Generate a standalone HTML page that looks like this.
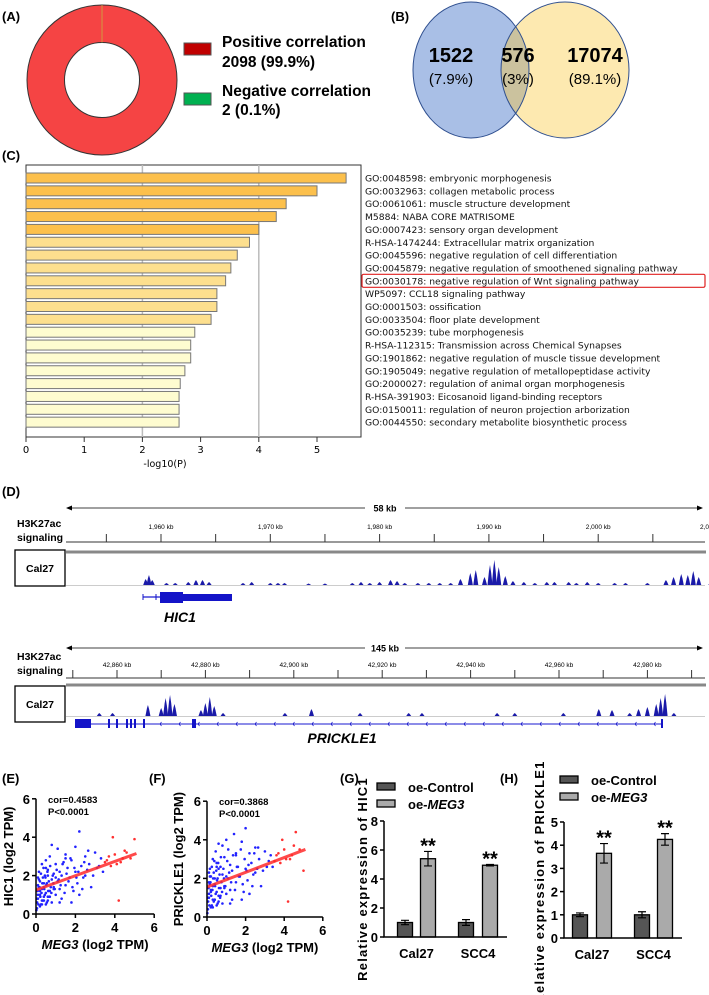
<!DOCTYPE html>
<html><head><meta charset="utf-8"><style>
html,body{margin:0;padding:0;background:#fff;}
svg{display:block;font-family:"Liberation Sans",sans-serif;}
.b{font-weight:bold;}
</style></head><body>
<svg id="fig" width="709" height="995" viewBox="0 0 709 995" xmlns="http://www.w3.org/2000/svg">
<defs>
<clipPath id="clipLeft"><ellipse cx="471" cy="70" rx="58" ry="68"/></clipPath>
</defs>
<!-- Panel A -->
<g>
<text x="2" y="21" class="b" font-size="13">(A)</text>
<circle cx="102" cy="80" r="56" fill="none" stroke="#f54444" stroke-width="37.5"/>
<circle cx="102" cy="80" r="75" fill="none" stroke="#333" stroke-width="1"/>
<circle cx="102" cy="80" r="37.5" fill="#fff" stroke="#333" stroke-width="1"/>
<line x1="102" y1="5" x2="102" y2="42.5" stroke="#c8b040" stroke-width="0.8"/>
<rect x="184" y="43" width="27" height="12" fill="#c00000" stroke="#555"/>
<text x="222" y="47" class="b" font-size="15.5">Positive correlation</text>
<text x="222" y="67" class="b" font-size="15.5">2098 (99.9%)</text>
<rect x="184" y="93" width="27" height="12" fill="#00b050" stroke="#555"/>
<text x="222" y="96" class="b" font-size="15.5">Negative correlation</text>
<text x="222" y="115" class="b" font-size="15.5">2 (0.1%)</text>
</g>
<!-- Panel B -->
<g>
<text x="391" y="21" class="b" font-size="13">(B)</text>
<ellipse cx="471" cy="70" rx="58" ry="68" fill="#a9bfe6"/>
<ellipse cx="565" cy="70" rx="64" ry="68" fill="#fde9b0"/>
<ellipse cx="565" cy="70" rx="64" ry="68" fill="#cbc29e" clip-path="url(#clipLeft)"/>
<ellipse cx="471" cy="70" rx="58" ry="68" fill="none" stroke="#2f4f8f"/>
<ellipse cx="565" cy="70" rx="64" ry="68" fill="none" stroke="#2f4f8f"/>
<g class="b" font-size="20" text-anchor="middle">
<text x="451" y="62">1522</text>
<text x="518" y="62">576</text>
<text x="595" y="62">17074</text>
</g>
<g font-size="15" text-anchor="middle">
<text x="451" y="84">(7.9%)</text>
<text x="518" y="84">(3%)</text>
<text x="595" y="84">(89.1%)</text>
</g>
</g>
<g id="pc">
<text x="2" y="160" class="b" font-size="13">(C)</text>
</g>
<g id="pd">
<text x="2" y="496" class="b" font-size="13">(D)</text>
</g>
<g id="pe"></g>
<g id="pf"></g>
<g id="pg"></g>
<g id="ph"></g>
</svg>
<script>
// ---- Panel C data ----
const goTerms = ["GO:0048598: embryonic morphogenesis","GO:0032963: collagen metabolic process","GO:0061061: muscle structure development","M5884: NABA CORE MATRISOME","GO:0007423: sensory organ development","R-HSA-1474244: Extracellular matrix organization","GO:0045596: negative regulation of cell differentiation","GO:0045879: negative regulation of smoothened signaling pathway","GO:0030178: negative regulation of Wnt signaling pathway","WP5097: CCL18 signaling pathway","GO:0001503: ossification","GO:0033504: floor plate development","GO:0035239: tube morphogenesis","R-HSA-112315: Transmission across Chemical Synapses","GO:1901862: negative regulation of muscle tissue development","GO:1905049: negative regulation of metallopeptidase activity","GO:2000027: regulation of animal organ morphogenesis","R-HSA-391903: Eicosanoid ligand-binding receptors","GO:0150011: regulation of neuron projection arborization","GO:0044550: secondary metabolite biosynthetic process"];
const goValues = [5.5,5.0,4.47,4.3,4.0,3.84,3.63,3.52,3.43,3.28,3.28,3.18,2.9,2.83,2.83,2.73,2.65,2.63,2.63,2.63];
const goTicks = [0,1,2,3,4,5];
// ---- Panel D data ----
const hic1TickKb = [1960,1970,1980,1990,2000];
const hic1Peaks = [[1958.6,6],[1958.9,10],[1959.2,5],[1960.5,2],[1961.3,2],[1962.5,3],[1963.2,5],[1963.8,5],[1964.4,3],[1967.5,2],[1968.3,3],[1970,2],[1970.7,2],[1971.3,2],[1973.5,1.5],[1975,1.5],[1977.5,2],[1978.3,3],[1979.1,2],[1980,3],[1981,5],[1981.6,4],[1982.3,2],[1983.5,2],[1984.5,2],[1985.5,2],[1986.5,2],[1987.4,6],[1988.3,12],[1988.8,15],[1989.6,8],[1990.1,20],[1990.5,25],[1990.9,18],[1991.5,9],[1992.2,4],[1993.2,3],[1994.2,2],[1995.3,3],[1996,3],[1997.3,3],[1998,2],[1999,3],[2000,2],[2001.5,2],[2002.5,2],[2004.5,2],[2006.2,5],[2006.9,8],[2007.6,11],[2008.2,10],[2008.7,14],[2009.2,8],[2010.3,3],[2011.3,2],[2012.5,1.5],[2013.5,1.5]];
const pkTickKb = [42860,42880,42900,42920,42940,42960,42980];
const pkPeaks = [[42856,3],[42859,3],[42867,11],[42870,8],[42871,18],[42872,21],[42873,12],[42879,6],[42880,13],[42881,19],[42882,10],[42884,3],[42898,3],[42904,7],[42915,3],[42926,3],[42929,3],[42946,3],[42950,3],[42961,3],[42969,7],[42972,6],[42976,3],[42978,7],[42980,9],[42982,12],[42983,18],[42984,22],[42986,3]];
// ---- Panel E/F data ----
const eX = [0.05,0.1,0.1,0.15,0.2,0.2,0.25,0.3,0.3,0.35,0.4,0.4,0.45,0.5,0.5,0.55,0.6,0.6,0.7,0.7,0.8,0.8,0.9,0.9,1.0,1.0,1.1,1.1,1.2,1.2,1.3,1.3,1.4,1.5,1.5,1.6,1.7,1.8,1.9,2.0,2.0,2.1,2.2,2.3,2.4,2.5,2.6,2.7,2.8,3.0,3.1,3.3,3.5,3.7,3.9,4.1,4.2,4.4,4.6,4.8,5.0,0.3,0.6,0.9,1.2,0.1,0.5,0.8,1.5,2.2,0.2,0.4,1.0,1.8,2.5,0.05,0.08,0.12,0.15,0.18,0.22,0.25,0.28,0.32,0.35,0.38,0.42,0.45,0.48,0.52,0.55,0.58,0.62,0.65,0.68,0.72,0.75,0.78,0.85,0.88,0.95,1.05,1.15,1.25,1.35,1.45,1.55,1.65,1.75,1.85,1.95,2.05,2.15,2.35,2.45,2.65,2.9,3.2,3.4,3.6,3.8,4.0,4.3,4.5,0.02,0.06,0.1,0.14,0.2,0.3,0.4,0.5,0.6,0.7];
const eY = [0.3,1.5,0.8,2.2,1.0,1.7,0.5,1.3,2.6,1.9,0.9,1.4,2.0,1.1,2.8,1.6,0.7,2.3,1.2,3.0,1.8,0.6,2.1,1.4,1.0,2.6,1.7,3.4,1.3,2.2,0.8,2.0,2.7,1.5,3.1,2.4,1.9,2.8,1.2,2.2,3.5,1.6,4.3,2.5,1.9,3.0,2.3,2.6,1.4,3.2,2.4,2.9,2.7,3.0,4.0,2.6,0.7,2.9,3.2,2.9,3.9,0.5,0.9,1.3,0.6,1.9,2.4,3.6,2.9,1.0,1.2,0.7,1.9,0.6,2.0,0.8,1.2,0.5,1.8,1.4,0.9,2.1,1.1,1.6,0.7,2.4,1.3,1.0,1.9,1.5,0.6,2.2,1.2,1.7,0.9,2.5,1.4,1.1,2.0,1.6,1.3,2.3,1.8,1.5,2.6,1.1,2.1,1.7,2.9,1.4,2.4,1.9,2.2,1.3,2.7,3.3,2.0,2.5,2.2,2.8,2.5,3.1,2.7,3.3,0.2,0.6,1.0,1.4,0.4,0.7,1.6,0.5,2.0,0.9];
const fX = eX.slice();
const fY = [0.4,1.8,1.0,2.5,1.3,2.1,0.6,1.6,3.0,2.3,0.9,1.7,3.4,1.3,2.8,2.0,0.8,3.8,1.5,2.6,2.2,0.7,3.1,1.6,1.2,4.0,2.0,3.5,1.4,2.7,0.9,2.4,4.3,1.8,3.2,2.6,2.1,3.9,1.3,2.5,4.6,1.9,3.3,2.8,2.2,3.6,2.5,3.0,1.6,3.4,2.6,3.2,2.9,3.3,4.0,3.0,0.8,3.2,4.4,3.5,2.4,0.5,1.1,1.5,0.7,2.3,2.6,3.7,3.3,1.2,1.4,0.9,2.1,0.9,2.3,1.0,1.5,0.6,2.1,1.8,1.1,2.6,1.4,2.0,0.8,2.9,1.6,1.2,2.4,1.9,0.7,2.8,1.5,2.2,1.0,3.1,1.8,1.3,2.5,2.0,1.6,2.9,2.3,1.8,3.2,1.4,2.6,2.1,3.5,1.7,3.0,2.4,2.7,1.6,3.3,3.6,2.4,2.9,2.6,3.2,2.8,3.5,3.0,3.7,0.2,0.8,1.2,1.7,0.5,0.9,2.0,0.6,2.5,1.1];
const eFit = [1.25,3.15];
const fFit = [1.55,3.5];
// ---- Panel G/H data ----
const cellLines = ["Cal27","SCC4"];
const gCtrl = [1.0,1.0], gCtrlErr=[0.15,0.2], gMeg=[5.4,4.95], gMegErr=[0.5,0.05];
const hCtrl = [1.0,1.0], hCtrlErr=[0.08,0.13], hMeg=[3.65,4.25], hMegErr=[0.42,0.25];
const gTicks=[0,2,4,6,8], hTicks=[0,1,2,3,4,5];

const NS="http://www.w3.org/2000/svg";
function mk(parent,tag,attrs,text){const e=document.createElementNS(NS,tag);for(const k in attrs)e.setAttribute(k,attrs[k]);if(text!==undefined)e.textContent=text;parent.appendChild(e);return e;}

// ===== Panel C =====
(function(){
const g=document.getElementById('pc');
const x0=26, ux=58.2, top=173, step=12.85;
const sx=v=>x0+v*ux;
let e;
e=mk(g,'rect',{x:26,y:165,width:335,height:272,fill:'#fff',stroke:'#333','stroke-width':1});


[2,4].forEach(v=>{e=mk(g,'line',{x1:sx(v),x2:sx(v),y1:165,y2:437,stroke:'#bbb','stroke-width':1.5});

});
goValues.forEach((v,i)=>{
const col=i<5?'#fcc04c':(i<12?'#fddf8e':'#fefcd0');
e=mk(g,'rect',{x:x0,y:top+i*step,width:sx(v)-x0,height:10,fill:col,stroke:'#777','stroke-width':1});


e=mk(g,'text',{x:365,y:top+i*step+8.5,'font-size':9.2,'font-family':'DejaVu Sans, sans-serif',fill:'#111'},goTerms[i]);


});
e=mk(g,'rect',{x:362,y:top+8*step-1.5,width:343,height:13,fill:'none',stroke:'#e02020','stroke-width':1.2,rx:1.5});


goTicks.forEach(t=>{
e=mk(g,'line',{x1:sx(t),x2:sx(t),y1:437,y2:442,stroke:'#333'});


e=mk(g,'text',{x:sx(t),y:453,'font-size':10,'text-anchor':'middle','font-family':'DejaVu Sans, sans-serif'},String(t));


});
e=mk(g,'text',{x:165,y:467,'font-size':9.5,'text-anchor':'middle','font-family':'DejaVu Sans, sans-serif'},'-log10(P)');


})();

// ===== Panel D =====
function track(opts){
const g=document.getElementById('pd');
const {arrowY,label,hY,axisY,ticks,kx,peaks,baseY,boxY,boxH,thickY,tickFmt,minor,tickLblY}=opts;
let e;
e=mk(g,'line',{x1:70,x2:700,y1:arrowY,y2:arrowY,stroke:'#000','stroke-width':0.8});


e=mk(g,'path',{d:`M66 ${arrowY} l6 -2.5 v5 z M703 ${arrowY} l-6 -2.5 v5 z`,fill:'#000'});


e=mk(g,'rect',{x:365,y:arrowY-6,width:40,height:12,fill:'#fff'});
e=mk(g,'text',{x:385,y:arrowY+3.5,'font-size':9,'text-anchor':'middle',class:'b'},label);


e=mk(g,'text',{x:17,y:hY,'font-size':10.5,class:'b'},'H3K27ac');


e=mk(g,'text',{x:17,y:hY+14,'font-size':10.5,class:'b'},'signaling');


e=mk(g,'line',{x1:66,x2:705,y1:axisY,y2:axisY,stroke:'#333','stroke-width':1});


ticks.forEach(t=>{
e=mk(g,'line',{x1:kx(t),x2:kx(t),y1:axisY-8,y2:axisY,stroke:'#333'});


e=mk(g,'text',{x:kx(t),y:tickLblY,'font-size':6.5,'text-anchor':'middle'},tickFmt(t));


});
minor.forEach(t=>{e=mk(g,'line',{x1:kx(t),x2:kx(t),y1:axisY-8,y2:axisY,stroke:'#333'});

});
e=mk(g,'rect',{x:66,y:thickY-1.5,width:640,height:3,fill:'#888'});


e=mk(g,'rect',{x:15,y:boxY,width:50,height:boxH,fill:'#fff',stroke:'#000','stroke-width':1.3});


e=mk(g,'text',{x:40,y:boxY+boxH/2+4,'font-size':10.5,'text-anchor':'middle',class:'b'},'Cal27');


e=mk(g,'line',{x1:66,x2:705,y1:baseY+0.5,y2:baseY+0.5,stroke:'#ccc','stroke-width':1});


peaks.forEach(p=>{const x=kx(p[0]);
e=mk(g,'path',{d:`M${x-2.5} ${baseY} L${x-1} ${baseY-p[1]*0.7} L${x} ${baseY-p[1]} L${x+1.2} ${baseY-p[1]*0.6} L${x+2.5} ${baseY} Z`,fill:'#1a1aa8'});

});
}
const hk=kb=>161+(kb-1960)*10.93;
track({arrowY:508,label:'58 kb',hY:527,axisY:542,ticks:hic1TickKb,kx:hk,peaks:hic1Peaks,baseY:585,boxY:550,boxH:36,thickY:552,tickFmt:t=>t.toLocaleString('en-US')+' kb',minor:[1955,1965,1975,1985,1995,2005],tickLblY:529});
(function(){const g=document.getElementById('pd');let e;
e=mk(g,'text',{x:700,y:529,'font-size':6.5},'2,0');


e=mk(g,'line',{x1:143,x2:232,y1:597,y2:597,stroke:'#1a1ad0','stroke-width':1.2});


e=mk(g,'rect',{x:160,y:592,width:23,height:11,fill:'#1414c8'});


e=mk(g,'rect',{x:183,y:594,width:49,height:7,fill:'#1414c8'});


e=mk(g,'path',{d:'M143 594 v6 M156 594 v6',stroke:'#1414c8'});
e=mk(g,'text',{x:180,y:622,'font-size':14,'text-anchor':'middle',class:'b','font-style':'italic'},'HIC1');


})();
const pk=kb=>117+(kb-42860)*4.42;
track({arrowY:648,label:'145 kb',hY:660,axisY:678,ticks:pkTickKb,kx:pk,peaks:pkPeaks,baseY:716,boxY:686,boxH:36,thickY:685,tickFmt:t=>t.toLocaleString('en-US')+' kb',minor:[42850,42870,42890,42910,42930,42950,42970,42990],tickLblY:667});
(function(){const g=document.getElementById('pd');let e;
e=mk(g,'line',{x1:75,x2:662,y1:724,y2:724,stroke:'#1a1ad0','stroke-width':1});


e=mk(g,'rect',{x:75,y:719,width:16,height:9,fill:'#1414c8'});


[109,117,127,131,135,144,193,195,662].forEach(x=>{e=mk(g,'rect',{x:x-1,y:719,width:2,height:9,fill:'#1414c8'});

});
for(let x=160;x<660;x+=19){e=mk(g,'path',{d:`M${x+1.5} 722 L${x} 724 L${x+1.5} 726`,stroke:'#1414c8',fill:'none','stroke-width':0.7});}
e=mk(g,'text',{x:342,y:743,'font-size':14,'text-anchor':'middle',class:'b','font-style':'italic'},'PRICKLE1');


})();

// ===== Panels E/F =====
function scatter(id,o){
const g=document.getElementById(id);let e;
const sx=v=>o.x0+v*o.ux, sy=v=>o.y0-v*o.uy;
e=mk(g,'text',{x:o.lx,y:783,'font-size':13,class:'b'},o.letter);


o.xs.forEach((x,i)=>{const red=x>3.4;
e=mk(g,'circle',{cx:sx(x),cy:sy(o.ys[i]),r:1.3,fill:red?'#ff3030':'#2222ff'});

});
e=mk(g,'line',{x1:sx(0),y1:sy(o.fit[0]),x2:sx(5.1),y2:sy(o.fit[1]),stroke:'#ff2a2a','stroke-width':3,'stroke-opacity':0.85});


e=mk(g,'path',{d:`M${sx(0)} ${sy(6)} V${o.y0} H${sx(6)}`,fill:'none',stroke:'#000','stroke-width':1.5});


[0,2,4,6].forEach(t=>{
e=mk(g,'line',{x1:sx(0)-4,x2:sx(0),y1:sy(t),y2:sy(t),stroke:'#000','stroke-width':1.5});


e=mk(g,'text',{x:sx(0)-6,y:sy(t)+5,'font-size':13,'text-anchor':'end',class:'b'},String(t));


e=mk(g,'line',{x1:sx(t),x2:sx(t),y1:o.y0,y2:o.y0+4,stroke:'#000','stroke-width':1.5});


e=mk(g,'text',{x:sx(t),y:o.y0+18,'font-size':13,'text-anchor':'middle',class:'b'},String(t));


});
e=mk(g,'text',{x:sx(3),y:o.y0+35,'font-size':13,'text-anchor':'middle',class:'b'});
e.innerHTML='<tspan font-style="italic">MEG3</tspan> (log2 TPM)';


e=mk(g,'text',{x:o.ylx,y:sy(3),'font-size':13,'text-anchor':'middle',class:'b',transform:`rotate(-90 ${o.ylx} ${sy(3)})`},o.ylabel);


e=mk(g,'text',{x:sx(0)+12,y:o.y0-o.uy*6+4,'font-size':9.5,class:'b'},o.cor);


e=mk(g,'text',{x:sx(0)+12,y:o.y0-o.uy*6+16,'font-size':9.5,class:'b'},'P<0.0001');


}
scatter('pe',{letter:'(E)',lx:2,x0:36,ux:19.7,y0:914,uy:19.2,xs:eX,ys:eY,fit:eFit,ylabel:'HIC1 (log2 TPM)',ylx:13,cor:'cor=0.4583'});
scatter('pf',{letter:'(F)',lx:149,x0:207,ux:19.3,y0:917,uy:19.3,xs:fX,ys:fY,fit:fFit,ylabel:'PRICKLE1 (log2 TPM)',ylx:183,cor:'cor=0.3868'});

// ===== Panels G/H =====
function bars(id,o){
const g=document.getElementById(id);let e;
const sy=v=>o.y0-v*o.uy;
e=mk(g,'text',{x:o.lx,y:783,'font-size':13,class:'b'},o.letter);


[['oe-Control','#555',o.legY],['oe-MEG3','#aaa',o.legY+17]].forEach((l,i)=>{
e=mk(g,'rect',{x:o.legX,y:l[2]-4,width:18,height:7,fill:l[1],stroke:'#000','stroke-width':1.3});


e=mk(g,'text',{x:o.legX+31,y:l[2]+5,'font-size':13,class:'b'});
e.innerHTML=i?'oe-<tspan font-style="italic">MEG3</tspan>':'oe-Control';


});
const bw=15;
cellLines.forEach((c,i)=>{
[[o.ctrl[i],o.ctrlE[i],o.cx[i],'#555'],[o.meg[i],o.megE[i],o.mx[i],'#aaa']].forEach((b,j)=>{
e=mk(g,'rect',{x:b[2]-bw/2,y:sy(b[0]),width:bw,height:b[0]*o.uy,fill:b[3],stroke:'#000','stroke-width':1.3});


e=mk(g,'path',{d:`M${b[2]} ${sy(b[0]+b[1])} V${sy(b[0]-b[1])} M${b[2]-4} ${sy(b[0]+b[1])} h8 M${b[2]-4} ${sy(b[0]-b[1])} h8`,stroke:'#000','stroke-width':1.2,fill:'none'});


if(j){e=mk(g,'text',{x:b[2],y:sy(b[0]+b[1])+1,'font-size':20,'text-anchor':'middle',class:'b'},'**');

}
});
e=mk(g,'text',{x:(o.cx[i]+o.mx[i])/2,y:o.y0+21,'font-size':13,'text-anchor':'middle',class:'b'},c);


});
const top=o.ticks[o.ticks.length-1];
e=mk(g,'path',{d:`M${o.ax} ${sy(top)} V${o.y0} H${o.ax+o.aw}`,fill:'none',stroke:'#000','stroke-width':1.5});


o.ticks.forEach(t=>{
e=mk(g,'line',{x1:o.ax-4,x2:o.ax,y1:sy(t),y2:sy(t),stroke:'#000','stroke-width':1.5});


e=mk(g,'text',{x:o.ax-6,y:sy(t)+5,'font-size':13,'text-anchor':'end',class:'b'},String(t));


});
e=mk(g,'text',{x:o.ylx,y:o.ylc,'font-size':13,'text-anchor':'middle',class:'b','letter-spacing':'1.2',transform:`rotate(-90 ${o.ylx} ${o.ylc})`},o.ylabel);


}
bars('pg',{letter:'(G)',lx:340,legX:377,legY:787,y0:937,uy:14.5,ax:384,aw:123,ticks:gTicks,ctrl:gCtrl,ctrlE:gCtrlErr,meg:gMeg,megE:gMegErr,cx:[405,466],mx:[428,490],ylabel:'Relative expression of HIC1',ylx:367,ylc:879});
bars('ph',{letter:'(H)',lx:500,legX:560,legY:780,y0:938,uy:23.2,ax:564,aw:118,ticks:hTicks,ctrl:hCtrl,ctrlE:hCtrlErr,meg:hMeg,megE:hMegErr,cx:[580,642],mx:[604,665],ylabel:'Relative expression of PRICKLE1',ylx:544,ylc:882});
</script>
</body></html>
